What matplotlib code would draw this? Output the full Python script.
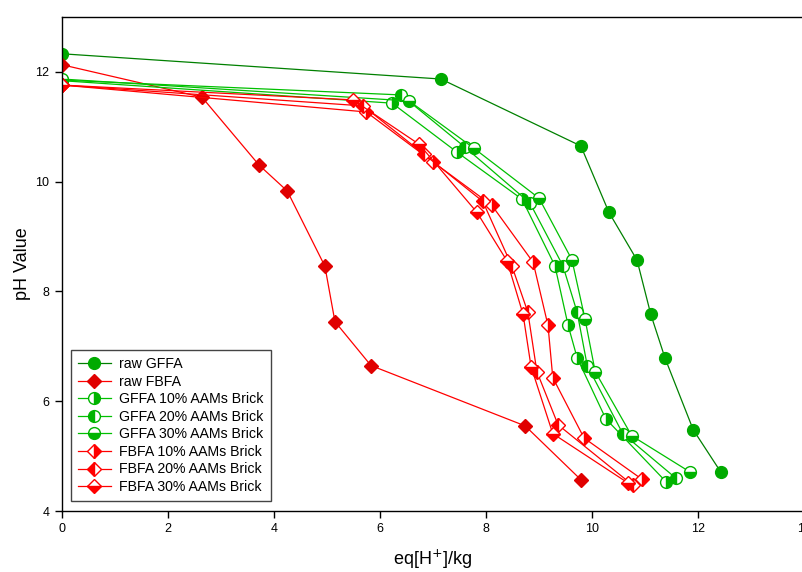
import matplotlib
matplotlib.use("Agg")
import matplotlib.pyplot as plt

plt.rcParams['font.family'] = ['Liberation Sans', 'DejaVu Sans']

# raw samples
raw_gffa_x = [0, 7.15, 9.79, 10.32, 10.85, 11.11, 11.38, 11.91, 12.43]
raw_gffa_y = [12.33, 11.87, 10.65, 9.44, 8.57, 7.58, 6.78, 5.48, 4.71]
raw_fbfa_x = [0, 2.64, 3.72, 4.25, 4.96, 5.15, 5.83, 8.74, 9.79]
raw_fbfa_y = [12.13, 11.54, 10.30, 9.83, 8.46, 7.45, 6.65, 5.55, 4.57]

# GFFA with brick
gffa10_x = [0, 6.23, 7.45, 8.68, 9.30, 9.55, 9.72, 10.26, 11.40]
gffa10_y = [11.84, 11.43, 10.54, 9.68, 8.47, 7.38, 6.79, 5.68, 4.53]
gffa20_x = [0, 6.40, 7.60, 8.83, 9.45, 9.72, 9.91, 10.58, 11.58]
gffa20_y = [11.85, 11.58, 10.63, 9.61, 8.47, 7.62, 6.65, 5.41, 4.60]
gffa30_x = [0, 6.55, 7.77, 9.00, 9.62, 9.87, 10.06, 10.75, 11.85]
gffa30_y = [11.87, 11.47, 10.61, 9.70, 8.58, 7.49, 6.54, 5.37, 4.71]

# FBFA with brick
fbfa10_x = [0, 5.74, 7.00, 8.11, 8.89, 9.17, 9.26, 9.85, 10.94]
fbfa10_y = [11.76, 11.27, 10.36, 9.57, 8.53, 7.38, 6.43, 5.33, 4.58]
fbfa20_x = [0, 5.68, 6.83, 7.94, 8.49, 8.79, 8.96, 9.36, 10.77]
fbfa20_y = [11.76, 11.38, 10.50, 9.64, 8.46, 7.62, 6.54, 5.57, 4.47]
fbfa30_x = [0, 5.49, 6.74, 7.83, 8.40, 8.70, 8.85, 9.26, 10.68]
fbfa30_y = [11.76, 11.49, 10.68, 9.44, 8.55, 7.58, 6.63, 5.41, 4.51]

x_ticks = [0, 2, 4, 6, 8, 10, 12, 14]
y_ticks = [4, 6, 8, 10, 12]

fig = plt.figure(figsize=(8.03, 5.72), dpi=100)
ax = fig.add_axes([62 / 803, 1 - 511 / 572, 742 / 803, 494 / 572])

dkgreen = "#008000"
green = "#00c000"
red = "#ff0000"
dkred = "#e00000"
lw = 0.9

ax.plot(raw_gffa_x, raw_gffa_y, color=dkgreen, lw=lw, marker="o", ms=8.5,
        mfc="#00aa00", mec="#00aa00", label="raw GFFA")
ax.plot(raw_fbfa_x, raw_fbfa_y, color=red, lw=lw, marker="D", ms=7.5,
        mfc=dkred, mec=dkred, label="raw FBFA")

for xs, ys, fs, lab in [(gffa10_x, gffa10_y, "right", "GFFA 10% AAMs Brick"),
                        (gffa20_x, gffa20_y, "left", "GFFA 20% AAMs Brick"),
                        (gffa30_x, gffa30_y, "bottom", "GFFA 30% AAMs Brick")]:
    ax.plot(xs, ys, color=green, lw=lw, marker="o", ms=8.5, fillstyle=fs,
            mfc="#00b400", mfcalt="white", mec="#00b400", mew=1.0, label=lab)

for xs, ys, fs, lab in [(fbfa10_x, fbfa10_y, "right", "FBFA 10% AAMs Brick"),
                        (fbfa20_x, fbfa20_y, "left", "FBFA 20% AAMs Brick"),
                        (fbfa30_x, fbfa30_y, "bottom", "FBFA 30% AAMs Brick")]:
    ax.plot(xs, ys, color=red, lw=lw, marker="D", ms=7.5, fillstyle=fs,
            mfc=red, mfcalt="white", mec=red, mew=1.0, label=lab)

ax.set_xlim(0, 14)
ax.set_ylim(4, 13)
ax.set_xticks(x_ticks)
ax.set_yticks(y_ticks)
ax.tick_params(direction="out", length=5, width=1, labelsize=9, pad=4)
for s in ax.spines.values():
    s.set_linewidth(1)

ax.set_xlabel("eq[H$^{+}$]/kg", fontsize=13, labelpad=9)
ax.set_ylabel("pH Value", fontsize=13, labelpad=3)

leg = ax.legend(loc="lower left", bbox_to_anchor=(0.012, 0.02),
                borderaxespad=0, fontsize=10.2, numpoints=1,
                handlelength=2.3, handletextpad=0.6, labelspacing=0.25,
                borderpad=0.5, fancybox=False, framealpha=1,
                edgecolor="#444444")
leg.get_frame().set_linewidth(1)

fig.savefig("out.png", dpi=100)
